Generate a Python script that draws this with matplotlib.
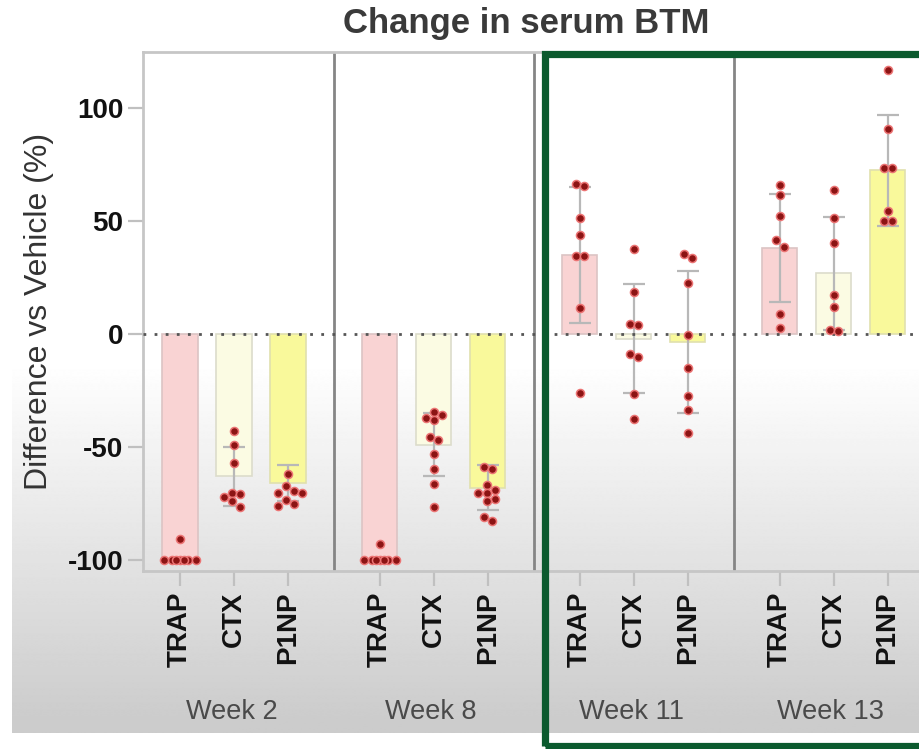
import numpy as np
import matplotlib
matplotlib.use("Agg")
import matplotlib.pyplot as plt
from matplotlib.patches import Rectangle
from matplotlib.transforms import blended_transform_factory

plt.rcParams["font.family"] = ["Liberation Sans", "DejaVu Sans"]

# ---- data -------------------------------------------------------------
weeks = ["Week 2", "Week 8", "Week 11", "Week 13"]
markers = ["TRAP", "CTX", "P1NP"]

# bar heights (mean % difference vs vehicle), per week: TRAP, CTX, P1NP
means = [
    [-100, -63, -66],
    [-100, -49, -68],
    [35, -2, -3.5],
    [38, 27, 72.5],
]
# standard deviations for the error bars
sds = [
    [0, 13, 8],
    [0, 14, 10],
    [30, 24, 31.5],
    [24, 25, 24.5],
]

# individual animals
w2_trap = [-91, -100, -100, -100, -100, -100, -100, -100]
w2_ctx = [-43, -49, -57, -70.5, -71, -72, -74, -76.5]
w2_p1np = [-62, -67.5, -69.5, -70.5, -70.5, -73.5, -75.5, -76]
w8_trap = [-93, -100, -100, -100, -100, -100, -100, -100]
w8_ctx = [-34.5, -36, -37, -38, -45.5, -47, -53, -60, -66.5, -76.5]
w8_p1np = [-59, -60, -67, -69, -70.5, -70.5, -73, -74, -81, -83]
w11_trap = [66.5, 65.5, 51.5, 44, 34.5, 34.5, 11.5, -26]
w11_ctx = [37.5, 18.5, 4.5, 4, -9, -10, -26.5, -37.5]
w11_p1np = [35.5, 33.5, 22.5, -0.5, -15, -27.5, -33.5, -44]
w13_trap = [66, 61.5, 52.5, 41.5, 38.5, 9, 2.5]
w13_ctx = [64, 51.5, 40.5, 17.5, 12, 2, 1.5]
w13_p1np = [117, 91, 73.5, 73.5, 54.5, 50, 50]

points = [
    [w2_trap, w2_ctx, w2_p1np],
    [w8_trap, w8_ctx, w8_p1np],
    [w11_trap, w11_ctx, w11_p1np],
    [w13_trap, w13_ctx, w13_p1np],
]

# ---- styling ----------------------------------------------------------
bar_face = ["#f9d3d3", "#fbfbe3", "#f9f99b"]
bar_edge = ["#dcc4c4", "#dcdccb", "#e0e0ae"]
GROUP_STEP = 3.7
BAR_W = 0.65

W, H = 920, 749
fig = plt.figure(figsize=(W / 100, H / 100), dpi=100)

# soft grey backdrop fading in toward the bottom
bg = fig.add_axes([0, 0, 1, 1], zorder=-10)
bg.set_xlim(0, W)
bg.set_ylim(H, 0)
bg.axis("off")
rows = np.arange(H)
shade = np.clip((rows - 370) / (733 - 370), 0, 1)
val = 1.0 - 0.20 * shade
grad = np.repeat(val[:, None], 2, axis=1)
bg.imshow(grad, cmap="gray", vmin=0, vmax=1, extent=[12, W, 733, 0],
          aspect="auto", interpolation="bilinear")

ax = fig.add_axes([143 / W, 1 - 571 / H, (W - 143) / W, (571 - 52) / H])
ax.patch.set_alpha(0)

ax.set_ylim(-105, 125)
ax.set_xlim(-0.685, 13.70)


def swarm_offsets(vals, step=0.15, ythr=3.2, max_k=2):
    """Greedy beeswarm: place each point at the nearest free column."""
    placed = []
    cands = [0]
    for k in range(1, max_k + 1):
        cands += [k, -k]
    extra = [0.5, -0.5, 1.5, -1.5]
    n_extra = 0
    result = [0.0] * len(vals)
    for i, v in enumerate(vals):
        chosen = None
        for c in cands:
            o = c * step
            if all(not (abs(o - po) < step * 0.9 and abs(v - pv) < ythr)
                   for po, pv in placed):
                chosen = o
                break
        if chosen is None:
            chosen = extra[n_extra % len(extra)] * step
            n_extra += 1
        placed.append((chosen, v))
        result[i] = chosen
    # centre each connected run of neighbouring points
    idx = sorted(range(len(vals)), key=lambda j: -vals[j])
    groups, cur = [], [idx[0]]
    for a, b in zip(idx[:-1], idx[1:]):
        if abs(vals[a] - vals[b]) < ythr:
            cur.append(b)
        else:
            groups.append(cur)
            cur = [b]
    groups.append(cur)
    for g in groups:
        if len(g) > 1:
            m = np.mean([result[j] for j in g])
            for j in g:
                result[j] -= m
    return result


tick_pos, tick_lab = [], []
for g, wk in enumerate(weeks):
    for c, mk in enumerate(markers):
        x = g * GROUP_STEP + c
        tick_pos.append(x)
        tick_lab.append(mk)
        m = means[g][c]
        ax.bar(x, m, width=BAR_W, color=bar_face[c], edgecolor=bar_edge[c],
               linewidth=1.2, zorder=2)
        if sds[g][c] > 0:
            ax.errorbar(x, m, yerr=sds[g][c], fmt="none", ecolor="#b8b8b8",
                        elinewidth=1.6, capsize=8, capthick=1.6, zorder=3)
        vals = points[g][c]
        offs = swarm_offsets(vals)
        ax.plot(np.array(offs) + x, vals, "o", ms=5.8, mfc="#8c1414",
                mec="#ec7474", mew=1.1, zorder=4, clip_on=False)

# panel separators
for g in range(1, len(weeks)):
    xd = (g - 1) * GROUP_STEP + 2 + (GROUP_STEP - 2) / 2
    ax.axvline(xd, color="#858585", lw=2, zorder=1)

# dotted reference line at zero
ax.axhline(0, color="#555555", lw=2, ls=(0, (1, 3)), zorder=3.5)

ax.spines["right"].set_visible(False)
for side in ["left", "top", "bottom"]:
    ax.spines[side].set_color("#c6c6c6")
    ax.spines[side].set_linewidth(2)

ax.set_yticks([-100, -50, 0, 50, 100])
ax.set_yticklabels(["-100", "-50", "0", "50", "100"], fontsize=20,
                   fontweight="bold", color="#111111")
ax.tick_params(axis="y", length=11, width=1.6, color="#c0c0c0", pad=3)
ax.set_xticks(tick_pos)
ax.set_xticklabels(tick_lab, rotation=90, fontsize=20, fontweight="bold",
                   color="#111111")
ax.tick_params(axis="x", length=11, width=1.6, color="#c0c0c0", pad=4)

ax.set_ylabel("Difference vs Vehicle (%)", fontsize=23, color="#333333",
              labelpad=10)

tr = blended_transform_factory(ax.transData, fig.transFigure)
for g, wk in enumerate(weeks):
    ax.text(g * GROUP_STEP + 0.95, 1 - 712 / H, wk, transform=tr,
            ha="center", va="center", fontsize=19.5, color="#4a4a4a")

fig.text(526 / W, 1 - 24 / H, "Change in serum BTM", ha="center",
         va="center", fontsize=25, fontweight="bold", color="#3a3a3a")

# highlight frame around the later weeks
frame = Rectangle((545 / W, 1 - 746 / H), (960 - 545) / W, (746 - 54) / H,
                  transform=fig.transFigure, fill=False, edgecolor="#0b5a2e",
                  linewidth=5.2, zorder=20, clip_on=False)
fig.add_artist(frame)

fig.savefig("out.png", dpi=100)
